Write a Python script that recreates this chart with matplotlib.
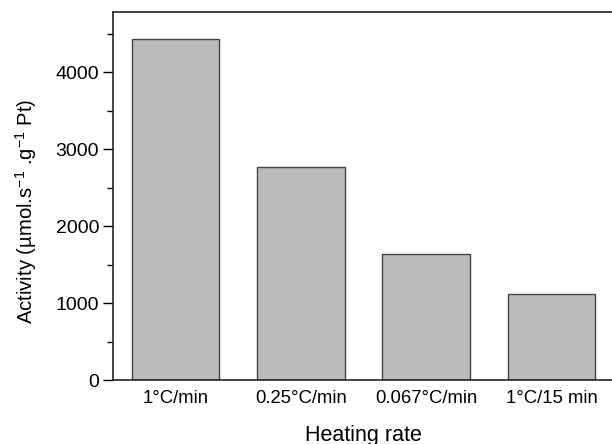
import matplotlib
matplotlib.use("Agg")
import matplotlib.pyplot as plt
from matplotlib.ticker import MultipleLocator

categories = ["1°C/min", "0.25°C/min", "0.067°C/min", "1°C/15 min"]
activity = [4424, 2770, 1640, 1113]

plt.rcParams['font.family'] = ['Liberation Sans', 'DejaVu Sans']
plt.rcParams['mathtext.fontset'] = 'custom'
plt.rcParams['mathtext.rm'] = 'Liberation Sans'
plt.rcParams['mathtext.it'] = 'Liberation Sans:italic'
plt.rcParams['mathtext.bf'] = 'Liberation Sans:bold'

fig = plt.figure(figsize=(6.12, 4.44), dpi=100)
ax = fig.add_axes([113/612, 1-380/444, 501/612, 368/444])

x = list(range(1, len(categories) + 1))
ax.bar(x, activity, width=0.7, color='#bcbcbc', edgecolor='#444444', linewidth=1.0, zorder=2)

ax.set_xlim(0.5, 4.5)
ax.set_ylim(0, 4780)
ax.set_xticks(x)
ax.set_xticklabels(categories, fontsize=13.3)
ax.tick_params(axis='x', length=0, pad=7)
ax.yaxis.set_major_locator(MultipleLocator(1000))
ax.yaxis.set_minor_locator(MultipleLocator(500))
ax.tick_params(axis='y', which='major', direction='out', length=7, width=1, labelsize=14, pad=3)
ax.tick_params(axis='y', which='minor', direction='out', length=4, width=1)
for s in ax.spines.values():
    s.set_linewidth(1.2)
    s.set_color('#222222')

ax.set_xlabel("Heating rate", fontsize=15.5)
ax.xaxis.set_label_coords(0.5, -(435 - 380) / 368)
ax.xaxis.label.set_va('center')
ax.set_ylabel(r"Activity (µmol.s$^{-1}$ .g$^{-1}$ Pt)", fontsize=14.6)
ax.yaxis.set_label_coords((26 - 113) / 501, (380 - 211) / 368)
ax.yaxis.label.set_va('center')

fig.savefig("out.png", dpi=100)
